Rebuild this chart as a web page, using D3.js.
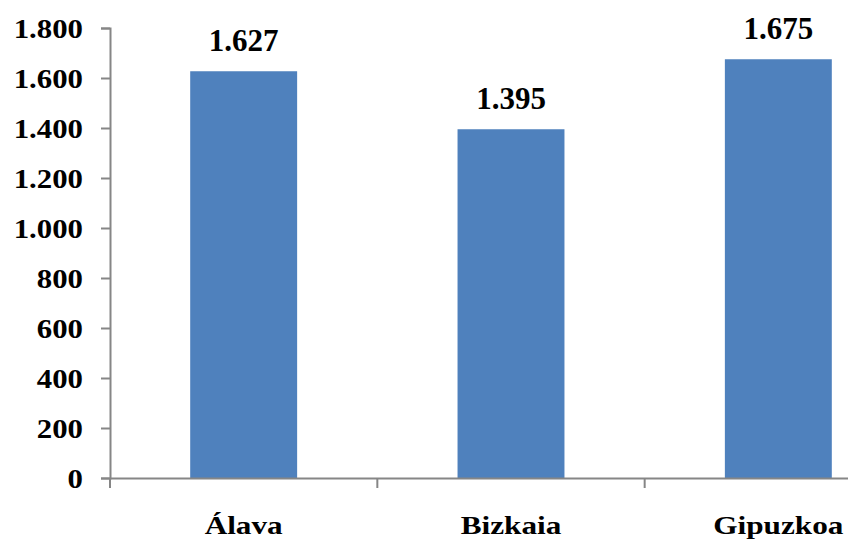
<!DOCTYPE html>
<html>
<head>
<meta charset="utf-8">
<script src="https://cdn.jsdelivr.net/npm/d3@7"></script>
<style>
  body { margin: 0; background: #fff; }
  svg { display: block; }
  svg text { font-family: "Liberation Serif", "Times New Roman", serif; font-weight: bold; }
</style>
</head>
<body>
<svg id="chart"></svg>
<script>
const categories = ["Álava", "Bizkaia", "Gipuzkoa"];
const values = [1627, 1395, 1675];
const yTicks = [0, 200, 400, 600, 800, 1000, 1200, 1400, 1600, 1800];

const width = 848;
const height = 540;
const fmt = (v) => d3.format(",")(v).replace(/,/g, ".");

const svg = d3.select("#chart").attr("width", width).attr("height", height);

const x = d3.scaleBand()
  .domain(categories)
  .range([110, 912])
  .paddingInner(0.6)
  .paddingOuter(0.3);

const xTick = d3.scaleBand().domain(categories).range([110, 912]);

const y = d3.scaleLinear().domain([0, 1800]).range([478, 28]);

// bars
svg.selectAll("rect.bar")
  .data(values)
  .enter()
  .append("rect")
  .attr("class", "bar")
  .attr("x", (d, i) => x(categories[i]))
  .attr("y", (d) => y(d))
  .attr("width", x.bandwidth())
  .attr("height", (d) => y(0) - y(d))
  .attr("fill", "#4F81BD");

// value labels
svg.selectAll("text.val")
  .data(values)
  .enter()
  .append("text")
  .attr("class", "val")
  .attr("x", (d, i) => x(categories[i]) + x.bandwidth() / 2)
  .attr("y", (d) => y(d) - 20)
  .attr("text-anchor", "middle")
  .style("font-size", "31px")
  .text((d) => fmt(d));

// y axis
const yAxis = svg.append("g")
  .attr("transform", "translate(110,0)")
  .call(d3.axisLeft(y).tickValues(yTicks).tickSize(9).tickPadding(18).tickFormat(fmt));
yAxis.selectAll("text")
  .style("font-size", "28px")
  .attr("fill", "#000")
  .attr("dy", "0.35em")
  .attr("transform", "translate(-27,0) scale(1.1,1)")
  .attr("x", 0)
  .attr("text-anchor", "end");

// x axis
const xAxis = svg.append("g")
  .attr("transform", "translate(0,478)")
  .call(d3.axisBottom(xTick).tickSize(0).tickPadding(0));
xAxis.selectAll("text")
  .style("font-size", "25px")
  .attr("fill", "#000")
  .attr("dy", 0)
  .attr("y", 56)
  .attr("transform", "scale(1.25,1)");
xAxis.selectAll(".tick line").remove();
xAxis.selectAll("line.tk")
  .data(categories.concat([null]))
  .enter()
  .append("line")
  .attr("class", "tk")
  .attr("x1", (d, i) => xTick.range()[0] + i * xTick.step())
  .attr("x2", (d, i) => xTick.range()[0] + i * xTick.step())
  .attr("y1", 0)
  .attr("y2", 10)
  .attr("stroke", "#868686")
  .attr("stroke-width", 2);

svg.selectAll(".domain").attr("stroke", "#868686").attr("stroke-width", 2);
svg.selectAll(".tick line").attr("stroke", "#868686").attr("stroke-width", 2);
</script>
</body>
</html>
